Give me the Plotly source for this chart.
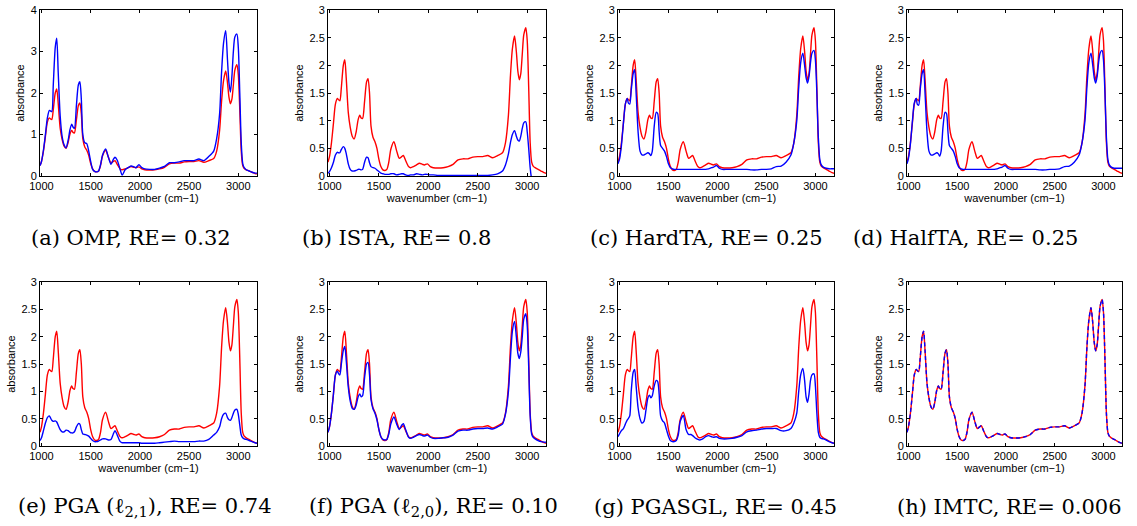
import plotly.graph_objects as go
from plotly.subplots import make_subplots

# ---------------- data ----------------
wavenumber = [
    985, 1000, 1020, 1040, 1060, 1080, 1090, 1105, 1120, 1140,
    1155, 1170, 1190, 1210, 1230, 1250, 1270, 1290, 1307, 1320,
    1335, 1355, 1375, 1390, 1405, 1420, 1440, 1460, 1480, 1500,
    1520, 1540, 1560, 1580, 1600, 1620, 1652, 1680, 1706, 1730,
    1747, 1770, 1800, 1820, 1850, 1880, 1910, 1940, 1960, 1990,
    2020, 2050, 2100, 2150, 2200, 2250, 2300, 2350, 2400, 2450,
    2500, 2550, 2600, 2650, 2700, 2750, 2780, 2810, 2830, 2850,
    2872, 2890, 2905, 2920, 2935, 2950, 2965, 2986, 3000, 3015,
    3030, 3045, 3060, 3080, 3110, 3140, 3170, 3190,
]

true_spectrum = [
    0.25, 0.35, 0.60, 0.95, 1.30, 1.40, 1.38, 1.36, 1.60, 2.00,
    2.10, 1.75, 1.15, 0.88, 0.72, 0.67, 0.80, 1.02, 1.10, 1.05,
    1.04, 1.35, 1.70, 1.76, 1.50, 0.90, 0.70, 0.62, 0.50, 0.30,
    0.17, 0.11, 0.10, 0.12, 0.25, 0.48, 0.62, 0.45, 0.32, 0.35,
    0.37, 0.28, 0.17, 0.15, 0.17, 0.20, 0.23, 0.21, 0.20, 0.22,
    0.17, 0.15, 0.145, 0.15, 0.17, 0.21, 0.29, 0.31, 0.31, 0.34,
    0.35, 0.35, 0.37, 0.33, 0.37, 0.42, 0.60, 1.10, 1.80, 2.30,
    2.53, 2.25, 1.90, 1.74, 1.85, 2.20, 2.55, 2.68, 2.45, 1.60,
    0.60, 0.25, 0.18, 0.15, 0.12, 0.09, 0.06, 0.05,
]

omp = [
    0.25, 0.35, 0.62, 1.00, 1.40, 1.58, 1.57, 1.55, 2.20, 3.10,
    3.32, 2.50, 1.45, 0.95, 0.75, 0.68, 0.85, 1.12, 1.25, 1.18,
    1.15, 1.70, 2.20, 2.27, 1.85, 1.00, 0.80, 0.78, 0.60, 0.35,
    0.16, 0.11, 0.10, 0.12, 0.27, 0.50, 0.65, 0.45, 0.28, 0.40,
    0.45, 0.38, 0.15, 0.02, 0.15, 0.20, 0.24, 0.22, 0.20, 0.27,
    0.20, 0.17, 0.16, 0.16, 0.19, 0.23, 0.32, 0.32, 0.34, 0.37,
    0.37, 0.37, 0.41, 0.37, 0.47, 0.60, 0.90, 1.50, 2.50, 3.20,
    3.50, 2.80, 2.25, 2.02, 2.40, 3.00, 3.35, 3.42, 3.10, 2.00,
    0.80, 0.30, 0.20, 0.15, 0.12, 0.09, 0.07, 0.07,
]

ista = [
    0.05, 0.08, 0.15, 0.25, 0.38, 0.43, 0.42, 0.42, 0.48, 0.53,
    0.50, 0.40, 0.22, 0.12, 0.09, 0.09, 0.10, 0.12, 0.12, 0.11,
    0.12, 0.25, 0.34, 0.33, 0.24, 0.17, 0.15, 0.14, 0.11, 0.08,
    0.05, 0.04, 0.03, 0.03, 0.03, 0.04, 0.04, 0.02, 0.03, 0.04,
    0.04, 0.02, 0.01, 0.02, 0.02, 0.04, 0.03, 0.02, 0.03, 0.03,
    0.02, 0.02, 0.01, 0.01, 0.01, 0.01, 0.01, 0.01, 0.01, 0.01,
    0.01, 0.01, 0.01, 0.02, 0.04, 0.09, 0.20, 0.40, 0.60, 0.75,
    0.82, 0.72, 0.65, 0.63, 0.72, 0.86, 0.96, 0.98, 0.80, 0.50,
    0.15, -0.05, -0.10, -0.10, -0.10, -0.10, -0.10, -0.10,
]

hardta = [
    0.22, 0.30, 0.55, 0.95, 1.30, 1.40, 1.32, 1.30, 1.55, 1.85,
    1.92, 1.50, 0.80, 0.45, 0.38, 0.38, 0.40, 0.42, 0.40, 0.37,
    0.45, 0.90, 1.15, 1.13, 0.80, 0.55, 0.50, 0.45, 0.35, 0.22,
    0.15, 0.13, 0.12, 0.12, 0.12, 0.12, 0.12, 0.12, 0.12, 0.12,
    0.12, 0.12, 0.12, 0.12, 0.12, 0.12, 0.13, 0.15, 0.16, 0.19,
    0.14, 0.12, 0.12, 0.12, 0.12, 0.12, 0.12, 0.11, 0.11, 0.12,
    0.12, 0.13, 0.17, 0.18, 0.25, 0.38, 0.60, 1.00, 1.60, 2.05,
    2.22, 2.00, 1.78, 1.68, 1.80, 2.05, 2.22, 2.27, 2.10, 1.50,
    0.70, 0.30, 0.20, 0.16, 0.14, 0.13, 0.13, 0.13,
]

halfta = [
    0.22, 0.32, 0.58, 0.98, 1.32, 1.40, 1.30, 1.28, 1.55, 1.85,
    1.92, 1.50, 0.80, 0.45, 0.38, 0.38, 0.40, 0.42, 0.40, 0.36,
    0.45, 0.90, 1.15, 1.13, 0.80, 0.55, 0.50, 0.45, 0.35, 0.22,
    0.15, 0.13, 0.12, 0.12, 0.12, 0.12, 0.12, 0.12, 0.12, 0.12,
    0.12, 0.12, 0.12, 0.12, 0.12, 0.12, 0.13, 0.15, 0.16, 0.19,
    0.14, 0.12, 0.12, 0.12, 0.12, 0.12, 0.12, 0.11, 0.11, 0.12,
    0.12, 0.13, 0.17, 0.18, 0.25, 0.38, 0.60, 1.00, 1.60, 2.05,
    2.22, 2.00, 1.78, 1.68, 1.80, 2.05, 2.22, 2.27, 2.10, 1.50,
    0.70, 0.30, 0.20, 0.16, 0.14, 0.14, 0.14, 0.14,
]

pga_l21 = [
    0.10, 0.15, 0.28, 0.42, 0.52, 0.55, 0.52, 0.47, 0.45, 0.46,
    0.44, 0.38, 0.30, 0.26, 0.26, 0.29, 0.28, 0.25, 0.24, 0.24,
    0.26, 0.35, 0.41, 0.40, 0.30, 0.22, 0.21, 0.20, 0.18, 0.14,
    0.10, 0.08, 0.08, 0.09, 0.11, 0.13, 0.13, 0.11, 0.12, 0.22,
    0.28, 0.20, 0.08, 0.06, 0.06, 0.06, 0.06, 0.06, 0.06, 0.06,
    0.05, 0.05, 0.05, 0.05, 0.06, 0.07, 0.08, 0.09, 0.08, 0.08,
    0.08, 0.08, 0.09, 0.09, 0.12, 0.20, 0.25, 0.35, 0.50, 0.58,
    0.60, 0.52, 0.48, 0.47, 0.52, 0.60, 0.66, 0.67, 0.58, 0.38,
    0.20, 0.15, 0.13, 0.12, 0.10, 0.08, 0.06, 0.05,
]

pga_l20 = [
    0.25, 0.35, 0.60, 0.95, 1.30, 1.37, 1.33, 1.30, 1.50, 1.75,
    1.82, 1.55, 1.08, 0.82, 0.69, 0.67, 0.75, 0.90, 0.95, 0.90,
    0.92, 1.25, 1.50, 1.53, 1.30, 0.85, 0.68, 0.60, 0.48, 0.30,
    0.17, 0.12, 0.11, 0.12, 0.22, 0.40, 0.53, 0.40, 0.30, 0.38,
    0.41, 0.30, 0.16, 0.14, 0.16, 0.19, 0.21, 0.19, 0.18, 0.20,
    0.16, 0.14, 0.14, 0.15, 0.16, 0.20, 0.27, 0.29, 0.29, 0.31,
    0.32, 0.32, 0.33, 0.31, 0.35, 0.40, 0.58, 1.00, 1.60, 2.10,
    2.28, 2.00, 1.70, 1.60, 1.72, 2.00, 2.32, 2.42, 2.20, 1.45,
    0.55, 0.22, 0.16, 0.13, 0.10, 0.08, 0.07, 0.07,
]

pgasgl = [
    0.17, 0.22, 0.28, 0.32, 0.40, 0.48, 0.50, 0.55, 1.00, 1.35,
    1.40, 1.10, 0.70, 0.50, 0.42, 0.45, 0.65, 0.88, 0.93, 0.88,
    0.92, 1.10, 1.20, 1.18, 0.95, 0.55, 0.46, 0.42, 0.30, 0.18,
    0.10, 0.08, 0.08, 0.10, 0.20, 0.45, 0.56, 0.30, 0.21, 0.21,
    0.19, 0.15, 0.12, 0.11, 0.13, 0.17, 0.19, 0.17, 0.16, 0.17,
    0.14, 0.13, 0.13, 0.14, 0.16, 0.19, 0.26, 0.28, 0.29, 0.31,
    0.32, 0.32, 0.32, 0.28, 0.28, 0.32, 0.42, 0.60, 1.00, 1.30,
    1.42, 1.20, 0.90, 0.80, 0.95, 1.20, 1.30, 1.32, 1.10, 0.60,
    0.25, 0.16, 0.14, 0.13, 0.11, 0.08, 0.06, 0.05,
]

imtc = [
    0.25, 0.35, 0.60, 0.95, 1.30, 1.40, 1.38, 1.36, 1.60, 2.00,
    2.10, 1.75, 1.15, 0.88, 0.72, 0.67, 0.80, 1.02, 1.10, 1.05,
    1.04, 1.35, 1.70, 1.76, 1.50, 0.90, 0.70, 0.62, 0.50, 0.30,
    0.17, 0.11, 0.10, 0.12, 0.25, 0.48, 0.62, 0.45, 0.32, 0.35,
    0.37, 0.28, 0.17, 0.15, 0.17, 0.20, 0.23, 0.21, 0.20, 0.22,
    0.17, 0.15, 0.145, 0.15, 0.17, 0.21, 0.29, 0.31, 0.31, 0.34,
    0.35, 0.35, 0.37, 0.33, 0.37, 0.42, 0.60, 1.10, 1.80, 2.30,
    2.53, 2.25, 1.90, 1.74, 1.85, 2.20, 2.55, 2.68, 2.45, 1.60,
    0.60, 0.25, 0.18, 0.15, 0.12, 0.09, 0.06, 0.05,
]

captions = [
    "(a) OMP, RE= 0.32",
    "(b) ISTA, RE= 0.8",
    "(c) HardTA, RE= 0.25",
    "(d) HalfTA, RE= 0.25",
    "(e) PGA (ℓ<sub>2,1</sub>), RE= 0.74",
    "(f) PGA (ℓ<sub>2,0</sub>), RE= 0.10",
    "(g) PGASGL, RE= 0.45",
    "(h) IMTC, RE= 0.006",
]
recovered = [omp, ista, hardta, halfta, pga_l21, pga_l20, pgasgl, imtc]
y_max = [4, 3, 3, 3, 3, 3, 3, 3]
y_step = [1, 0.5, 0.5, 0.5, 0.5, 0.5, 0.5, 0.5]
x_ticks = [1000, 1500, 2000, 2500, 3000]

# ---------------- layout geometry (page pixels) ----------------
W_PX, H_PX = 1137, 526
col_px = [(40, 257), (328, 546), (618, 834), (907, 1122)]
row_px = [(10, 176), (282, 446)]
caption_cx = [131, 396, 706, 965, 145, 433, 715, 1009]
caption_cy = [238, 507]


def px_x(p):
    return p / W_PX


def px_y(p):
    return 1 - p / H_PX


RED = "#ff0000"
BLUE = "#0000ff"
SANS = "Liberation Sans, Arial, sans-serif"
SERIF = "DejaVu Serif, serif"

fig = make_subplots(rows=2, cols=4)

for i in range(8):
    r, c = i // 4, i % 4
    fig.add_trace(go.Scatter(
        x=wavenumber, y=true_spectrum, mode="lines",
        line=dict(color=RED, width=1.4, shape="spline", smoothing=0.7),
        showlegend=False, hoverinfo="skip"), row=r + 1, col=c + 1)
    fig.add_trace(go.Scatter(
        x=wavenumber, y=recovered[i], mode="lines",
        line=dict(color=BLUE, width=1.4, shape="spline", smoothing=0.7,
                  dash="4px,3px" if i == 7 else "solid"),
        showlegend=False, hoverinfo="skip"), row=r + 1, col=c + 1)

    x0, x1 = col_px[c]
    y0, y1 = row_px[r]
    axis_common = dict(
        showline=True, linecolor="black", linewidth=1, mirror="ticks",
        ticks="inside", ticklen=3, tickcolor="black", tickwidth=1,
        showgrid=False, zeroline=False, automargin=False,
        tickfont=dict(family=SANS, size=11, color="black"),
    )
    fig.update_xaxes(
        domain=[px_x(x0), px_x(x1)], range=[985, 3190],
        tickvals=x_ticks, ticktext=[str(v) for v in x_ticks],
        title=dict(text="wavenumber (cm−1)", standoff=1,
                   font=dict(family=SANS, size=11, color="black")),
        row=r + 1, col=c + 1, **axis_common)
    fig.update_yaxes(
        domain=[px_y(y1), px_y(y0)], range=[0, y_max[i]],
        dtick=y_step[i], tick0=0,
        title=dict(text="absorbance", standoff=3,
                   font=dict(family=SANS, size=11, color="black")),
        row=r + 1, col=c + 1, **axis_common)

    fig.add_annotation(
        text=captions[i], xref="paper", yref="paper",
        x=px_x(caption_cx[i]), y=px_y(caption_cy[r]),
        xanchor="center", yanchor="middle", showarrow=False,
        font=dict(family=SERIF, size=21, color="black"))

fig.update_layout(
    template="none",
    width=W_PX, height=H_PX,
    margin=dict(l=0, r=0, t=0, b=0),
    paper_bgcolor="white", plot_bgcolor="white",
    showlegend=False,
    hovermode=False,
)

fig.write_html(
    "out.html",
    config={"displayModeBar": False, "staticPlot": True},
    post_script="document.body.style.margin='0';document.body.style.padding='0';",
)
